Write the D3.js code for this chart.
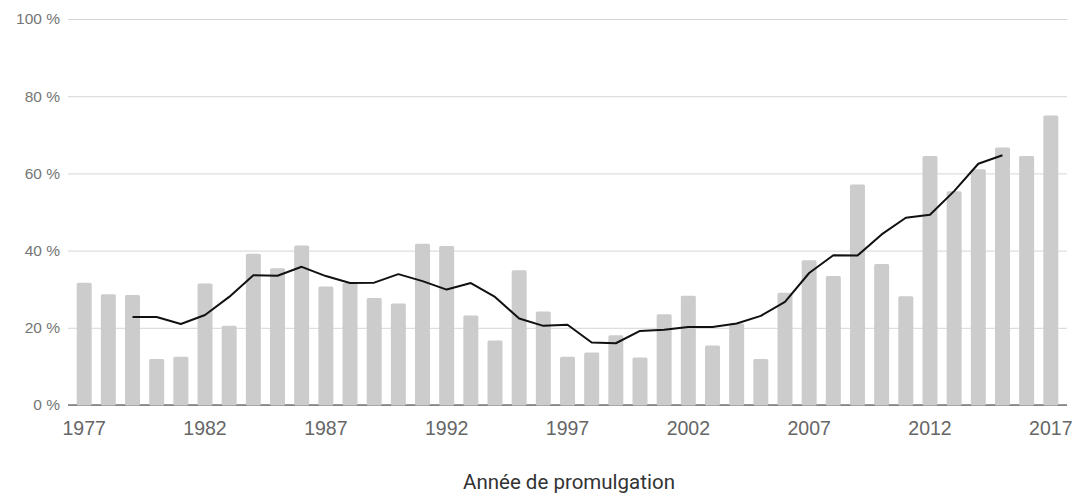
<!DOCTYPE html>
<html>
<head>
<meta charset="utf-8">
<script src="https://cdn.jsdelivr.net/npm/d3@7"></script>
<style>
  body { margin: 0; background: #fff; }
  svg { font-family: Roboto, sans-serif; }
</style>
</head>
<body>
<svg id="chart"></svg>
<script>
// data
var years = d3.range(1977, 2018);
var shares = [31.7, 28.7, 28.5, 11.9, 12.5, 31.5, 20.5, 39.2, 35.4, 41.3,
              30.7, 31.6, 27.7, 26.3, 41.8, 41.2, 23.2, 16.7, 34.9, 24.2,
              12.5, 13.6, 18.1, 12.3, 23.5, 28.3, 15.4, 21.1, 11.9, 29.1,
              37.5, 33.4, 57.1, 36.5, 28.2, 64.5, 55.4, 61.1, 66.7, 64.5, 75.0];
var avgYears = d3.range(1979, 2016);
var avgShares = [22.8, 22.8, 21.0, 23.3, 28.0, 33.6, 33.5, 35.8, 33.4, 31.6,
                 31.7, 33.9, 32.1, 29.9, 31.6, 28.0, 22.4, 20.5, 20.8, 16.2,
                 16.0, 19.2, 19.5, 20.2, 20.2, 21.1, 23.1, 26.7, 34.2, 38.8,
                 38.7, 44.2, 48.5, 49.3, 55.4, 62.5, 64.7];
var yTicks = [0, 20, 40, 60, 80, 100];
var xTickYears = [1977, 1982, 1987, 1992, 1997, 2002, 2007, 2012, 2017];
var xTitle = 'Année de promulgation';

var W = 1087, H = 495;
var margin = {top: 19, right: 20, bottom: 90, left: 68};

var svg = d3.select('#chart')
    .attr('width', W)
    .attr('height', H);

var xScale = d3.scaleBand()
    .domain(years)
    .range([margin.left, W - margin.right])
    .paddingInner(0.38)
    .paddingOuter(0.36);

var yScale = d3.scaleLinear()
    .domain([0, 100])
    .range([H - margin.bottom, margin.top]);

// grid + y labels
var yAxis = d3.axisLeft(yScale)
    .tickValues(yTicks)
    .tickSize(-(W - margin.right - margin.left))
    .tickPadding(8)
    .tickFormat(function(d){ return d + ' %'; });

var gy = svg.append('g')
    .attr('transform', 'translate(' + margin.left + ',0)')
    .call(yAxis);
gy.select('.domain').remove();
gy.selectAll('.tick line').attr('stroke', '#d6d6d6');
gy.selectAll('.tick text')
    .attr('fill', '#757575')
    .style('font-size', '15.5px');

// baseline
svg.append('line')
    .attr('x1', margin.left)
    .attr('x2', W - margin.right)
    .attr('y1', yScale(0))
    .attr('y2', yScale(0))
    .attr('stroke', '#333')
    .attr('stroke-width', 1);

// bars
svg.append('g')
    .selectAll('rect')
    .data(shares)
    .enter().append('rect')
    .attr('x', function(d, i){ return xScale(years[i]); })
    .attr('y', function(d){ return yScale(d); })
    .attr('width', xScale.bandwidth())
    .attr('height', function(d){ return yScale(0) - yScale(d) + 0.5; })
    .attr('rx', 1.5)
    .attr('fill', '#cccccc');

// moving average line
var line = d3.line()
    .x(function(d, i){ return xScale(avgYears[i]) + xScale.bandwidth() / 2; })
    .y(function(d){ return yScale(d); });

svg.append('path')
    .datum(avgShares)
    .attr('d', line)
    .attr('fill', 'none')
    .attr('stroke', '#111')
    .attr('stroke-width', 2)
    .attr('stroke-linejoin', 'round');

// x labels
var xAxis = d3.axisBottom(xScale)
    .tickValues(xTickYears)
    .tickSize(0)
    .tickPadding(16);

var gx = svg.append('g')
    .attr('transform', 'translate(0,' + yScale(0) + ')')
    .call(xAxis);
gx.select('.domain').remove();
gx.selectAll('.tick text')
    .attr('fill', '#666')
    .style('font-size', '19.5px');

// axis title
svg.append('text')
    .attr('x', 569)
    .attr('y', 489)
    .attr('text-anchor', 'middle')
    .attr('fill', '#333')
    .style('font-size', '20.5px')
    .text(xTitle);
</script>
</body>
</html>
